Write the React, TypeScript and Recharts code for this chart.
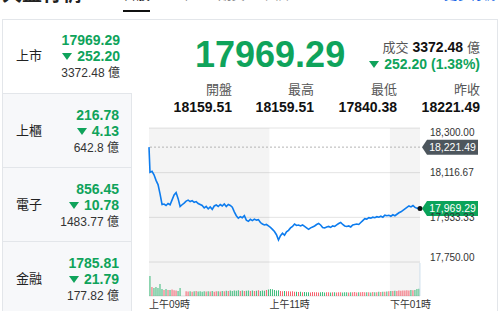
import React from "react";
import {
  ComposedChart,
  Line,
  Bar,
  Cell,
  XAxis,
  YAxis,
  CartesianGrid,
  ReferenceArea,
  ReferenceLine,
  ReferenceDot,
} from "recharts";

const FONT = "'Liberation Sans', Arial, 'Noto Sans CJK TC', sans-serif";
const GREEN = "#0fa35b";
const UP_RED = "#f5515f";
const DOWN_GREEN = "#25b36b";

// left list
const sectorNames = ["上市", "上櫃", "電子", "金融"];
const sectorIndex = ["17969.29", "216.78", "856.45", "1785.81"];
const sectorChange = ["252.20", "4.13", "10.78", "21.79"];
const sectorTurnover = ["3372.48", "642.8", "1483.77", "177.82"];

// summary
const lastText = "17969.29";
const turnoverText = "3372.48";
const changeText = "252.20 (1.38%)";
const statLabels = ["開盤", "最高", "最低", "昨收"];
const statValues = ["18159.51", "18159.51", "17840.38", "18221.49"];

const prevClose = 18221.49;
const lastPrice = 17969.29;

// intraday (minutes after 09:00)
const minutes = [
  0, 1, 3, 5, 7, 9, 11, 13, 15, 17,
  19, 21, 23, 25, 27, 29, 31, 33, 35, 37,
  39, 41, 43, 45, 47, 49, 51, 53, 55, 57,
  59, 61, 63, 65, 67, 69, 71, 73, 75, 77,
  79, 81, 83, 85, 87, 89, 91, 93, 95, 97,
  99, 101, 103, 105, 107, 109, 111, 113, 115, 117,
  119, 121, 123, 125, 127, 129, 131, 133, 135, 137,
  139, 141, 143, 145, 147, 149, 151, 153, 155, 157,
  159, 161, 163, 165, 167, 169, 171, 173, 175, 177,
  179, 181, 183, 185, 187, 189, 191, 193, 195, 197,
  199, 201, 203, 205, 207, 209, 211, 213, 215, 217,
  219, 221, 223, 225, 227, 229, 231, 233, 235, 237,
  239, 241, 243, 245, 247, 249, 251, 253, 255, 257,
  259, 261, 263, 265, 267, 269, 270,
];

const prices = [
  18221.49, 18118, 18122, 18108, 18085, 18068, 18030, 17986, 17988, 17982,
  17990, 17985, 18005, 18025, 18035, 18010, 17978, 17985, 17992, 18000,
  18004, 17998, 18002, 17995, 17998, 17990, 17986, 17982, 17972, 17978,
  17968, 17976, 17966, 17980, 17984, 17978, 17986, 17980, 17988, 17978,
  17986, 17982, 17975, 17956, 17940, 17930, 17936, 17932, 17940, 17922,
  17917, 17925, 17920, 17926, 17922, 17924, 17912, 17906, 17902, 17904,
  17898, 17892, 17884, 17875, 17862, 17840.38, 17858, 17868, 17860, 17874,
  17880, 17890, 17896, 17906, 17900, 17902, 17898, 17902, 17896, 17890,
  17884, 17890, 17894, 17898, 17904, 17908, 17902, 17892, 17890, 17894,
  17896, 17892, 17898, 17896, 17902, 17908, 17912, 17904, 17898, 17896,
  17898, 17894, 17902, 17904, 17906, 17904, 17912, 17920, 17928, 17926,
  17932, 17930, 17934, 17932, 17936, 17934, 17938, 17934, 17942, 17940,
  17942, 17938, 17944, 17940, 17946, 17952, 17956, 17962, 17968, 17974,
  17980, 17976, 17982, 17974, 17971, 17970, 17969.29,
];

const volumes = [
  0, 125, 56, 50, 56, 50, 75, 44, 38, 44,
  38, 38, 40, 36, 34, 32, 50, 0, 0, 30,
  28, 30, 27, 29, 31, 28, 30, 27, 29, 28,
  30, 28, 31, 27, 29, 30, 28, 31, 29, 33,
  32, 34, 31, 35, 33, 36, 32, 34, 31, 33,
  35, 32, 34, 31, 33, 36, 32, 34, 33, 38,
  40, 44, 42, 38, 34, 36, 32, 30, 31, 29,
  30, 28, 29, 27, 26, 25, 27, 24, 25, 23,
  24, 22, 25, 23, 24, 22, 23, 25, 22, 24,
  23, 22, 24, 23, 22, 24, 23, 22, 24, 23,
  22, 24, 23, 25, 22, 24, 23, 25, 24, 23,
  24, 22, 25, 23, 24, 26, 25, 27, 26, 28,
  30, 32, 31, 33, 32, 34, 33, 35, 34, 36,
  35, 37, 36, 38, 44, 46, 206,
];

const priceTicks = [18300, 18116.67, 17933.33, 17750];
const timeTicks = [0, 120, 240];
const timeLabels = ["上午09時", "上午11時", "下午01時"];

const chartData = minutes.map((m, i) => ({
  t: m,
  price: prices[i],
  vol: volumes[i],
}));

const fmt = (v: number) =>
  v.toLocaleString("en-US", { minimumFractionDigits: 2, maximumFractionDigits: 2 });

function Tri({ size = 10 }: { size?: number }) {
  return (
    <svg width={size} height={size * 0.7} style={{ display: "inline-block", marginRight: 5, verticalAlign: "middle", position: "relative", top: -1 }}>
      <polygon points={`0,0 ${size},0 ${size / 2},${size * 0.7}`} fill={GREEN} />
    </svg>
  );
}

function PriceTick({ x, y, payload }: any) {
  const v = payload.value;
  const dy = v === 18300 ? 7.5 : v === 17750 ? -1.5 : 3.5;
  return (
    <text x={x + 10} y={y + dy} fontSize={10} fill="#333" fontFamily={FONT}>
      {fmt(v)}
    </text>
  );
}

function TimeTick({ x, y, payload }: any) {
  const idx = timeTicks.indexOf(payload.value);
  return (
    <text x={x} y={y + 12} fontSize={10} fill="#333" fontFamily={FONT} textAnchor="start">
      {timeLabels[idx]}
    </text>
  );
}

function PriceTag({ cx, cy, text, color, dot }: any) {
  const x = cx + 2;
  return (
    <g>
      {dot && <circle cx={cx} cy={cy} r={2.5} fill="#111" />}
      <path d={`M${x},${cy} L${x + 5},${cy - 7.5} H${x + 56} V${cy + 7.5} H${x + 5} Z`} fill={color} />
      <text x={x + 30.5} y={cy + 3.6} textAnchor="middle" fontSize={10.5} fill="#fff" fontFamily={FONT}>
        {text}
      </text>
    </g>
  );
}

function IntradayChart() {
  return (
    <ComposedChart
      width={360}
      height={191}
      data={chartData}
      margin={{ top: 8, right: 0, bottom: 0, left: 9 }}
    >
      {/* session shading */}
      <ReferenceArea yAxisId="p" x1={0} x2={120} fill="#000" fillOpacity={0.045} stroke="none" />
      <ReferenceArea yAxisId="p" x1={240} x2={270} fill="#000" fillOpacity={0.045} stroke="none" />

      <CartesianGrid yAxisId="p" vertical={false} stroke="#e4e4e4" />

      <XAxis
        dataKey="t"
        type="number"
        domain={[0, 270]}
        ticks={timeTicks}
        tick={<TimeTick />}
        axisLine={false}
        tickLine={false}
        tickSize={0}
        tickMargin={0}
        height={15}
        interval={0}
      />
      <YAxis
        yAxisId="p"
        orientation="right"
        domain={[17610.5, 18300]}
        ticks={priceTicks}
        tick={<PriceTick />}
        axisLine={false}
        tickLine={false}
        tickSize={0}
        tickMargin={0}
        width={80}
        interval={0}
        allowDataOverflow
      />
      <YAxis yAxisId="v" hide domain={[0, 1050]} allowDataOverflow />

      <Bar yAxisId="v" dataKey="vol" barSize={2} isAnimationActive={false}>
        {chartData.map((d, i) => {
          let c = i > 0 && d.price >= chartData[i - 1].price ? UP_RED : DOWN_GREEN;
          if (i === chartData.length - 1) c = "#c9dcea";
          return <Cell key={i} fill={c} />;
        })}
      </Bar>

      <ReferenceLine yAxisId="p" y={prevClose} stroke="#b5b5b5" strokeDasharray="2 2" />

      <Line
        yAxisId="p"
        dataKey="price"
        type="linear"
        stroke="#0d7cee"
        strokeWidth={1.6}
        dot={false}
        activeDot={false}
        isAnimationActive={false}
      />

      <ReferenceDot
        yAxisId="p"
        x={270}
        y={prevClose}
        r={0}
        shape={(p: any) => <PriceTag cx={p.cx} cy={p.cy} text={fmt(prevClose)} color="#4d565d" />}
      />
      <ReferenceDot
        yAxisId="p"
        x={270}
        y={lastPrice}
        r={2.5}
        shape={(p: any) => <PriceTag cx={p.cx} cy={p.cy} text={fmt(lastPrice)} color="#0aa35a" dot />}
      />
    </ComposedChart>
  );
}

export default function App() {
  const tabs = ["台股", "上櫃", "期貨", "國際"];
  return (
    <div
      style={{
        position: "fixed",
        left: 0,
        top: 0,
        width: 500,
        height: 311,
        overflow: "hidden",
        background: "#fff",
        fontFamily: FONT,
        color: "#222",
      }}
    >
      {/* clipped page header */}
      <div style={{ position: "absolute", left: 2, top: -16, fontSize: 20, lineHeight: "20px", fontWeight: 700, color: "#222" }}>
        大盤行情
      </div>
      {tabs.map((t, i) => (
        <div
          key={t}
          style={{
            position: "absolute",
            left: [123, 170, 218, 265][i],
            top: -12,
            fontSize: 13.5,
            lineHeight: "14px",
            color: i === 0 ? "#222" : "#888",
          }}
        >
          {t}
        </div>
      ))}
      <div style={{ position: "absolute", left: 123, top: 10, width: 27, height: 2, background: "#111" }} />
      <div style={{ position: "absolute", right: 4, top: -12, fontSize: 13, lineHeight: "14px", color: "#1565e6" }}>
        更多行情
      </div>

      {/* card */}
      <div
        style={{
          position: "absolute",
          left: 2,
          top: 19,
          width: 496,
          height: 300,
          border: "1px solid #e3e6ea",
          boxSizing: "border-box",
        }}
      />

      {sectorNames.map((name, i) => (
        <div
          key={name}
          style={{
            position: "absolute",
            left: 3,
            top: 19 + 74 * i + (i === 0 ? 1 : 0),
            width: 129,
            height: i === 0 ? 73 : 74,
            boxSizing: "border-box",
            background: i === 0 ? "#fff" : "#f7f8fa",
            borderTop: i === 0 ? "none" : "1px solid #e3e6ea",
            borderRight: i === 0 ? "none" : "1px solid #e3e6ea",
          }}
        >
          <div style={{ position: "absolute", left: 13, top: 37 - (i === 0 ? 1 : 0) - 9, fontSize: 13, lineHeight: "18px", color: "#222" }}>
            {name}
          </div>
          <div style={{ position: "absolute", right: 12, top: 12 - (i === 0 ? 1 : 0), lineHeight: "18px", fontSize: 14, fontWeight: 700, color: GREEN, textAlign: "right" }}>
            {sectorIndex[i]}
          </div>
          <div style={{ position: "absolute", right: 12, top: 28 - (i === 0 ? 1 : 0), lineHeight: "18px", fontSize: 14, fontWeight: 700, color: GREEN, textAlign: "right", whiteSpace: "nowrap" }}>
            <Tri />
            {sectorChange[i]}
          </div>
          <div style={{ position: "absolute", right: 12, top: 45 - (i === 0 ? 1 : 0), lineHeight: "18px", fontSize: 12, color: "#333", textAlign: "right", whiteSpace: "nowrap" }}>
            {sectorTurnover[i]} 億
          </div>
        </div>
      ))}

      {/* summary */}
      <div style={{ position: "absolute", left: 195, top: 37, fontSize: 36, lineHeight: "36px", fontWeight: 700, color: GREEN }}>
        {lastText}
      </div>
      <div style={{ position: "absolute", right: 20, top: 38, fontSize: 14, lineHeight: "18px", whiteSpace: "nowrap" }}>
        <span style={{ color: "#555", fontSize: 13 }}>成交</span>
        <span style={{ color: "#111", fontWeight: 700 }}> {turnoverText} </span>
        <span style={{ color: "#555", fontSize: 13 }}>億</span>
      </div>
      <div style={{ position: "absolute", right: 20, top: 55, fontSize: 14, lineHeight: "18px", fontWeight: 700, color: GREEN, whiteSpace: "nowrap" }}>
        <Tri />
        {changeText}
      </div>

      {statLabels.map((l, i) => {
        const right = 500 - [232, 314, 397, 480][i];
        return (
          <React.Fragment key={l}>
            <div style={{ position: "absolute", right, top: 81, fontSize: 13, lineHeight: "18px", color: "#555" }}>{l}</div>
            <div style={{ position: "absolute", right, top: 98, fontSize: 14, lineHeight: "18px", fontWeight: 700, color: "#111" }}>
              {statValues[i]}
            </div>
          </React.Fragment>
        );
      })}

      <div style={{ position: "absolute", left: 140, top: 120 }}>
        <IntradayChart />
      </div>
    </div>
  );
}
